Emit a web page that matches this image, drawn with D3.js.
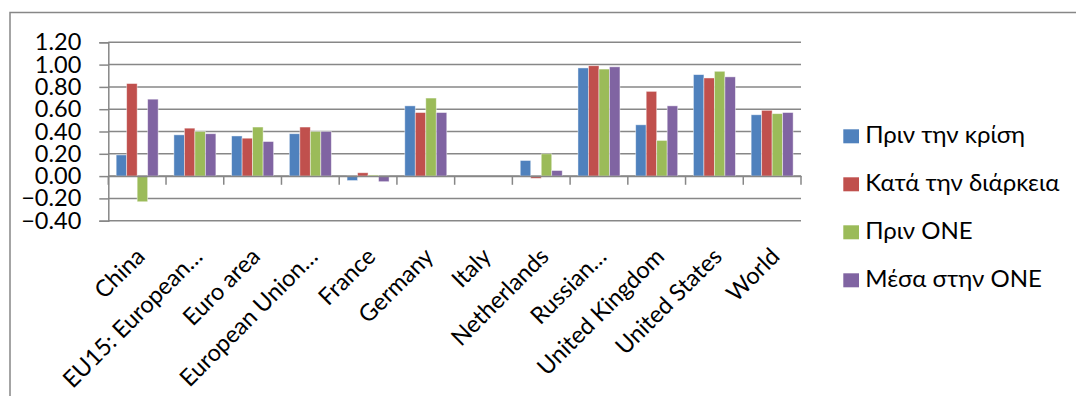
<!DOCTYPE html>
<html>
<head>
<meta charset="utf-8">
<script src="https://cdn.jsdelivr.net/npm/d3@7"></script>
<style>
  html, body { margin: 0; padding: 0; background: #fff; }
  svg { display: block; }
  text { font-family: Lato, "Open Sans", sans-serif; fill: #000; }
</style>
</head>
<body>
<svg id="chart" width="1076" height="396"></svg>
<script>
const categories = ["China", "EU15: European…", "Euro area", "European Union…", "France", "Germany", "Italy", "Netherlands", "Russian…", "United Kingdom", "United States", "World"];
const seriesNames = ["Πριν την κρίση", "Κατά την διάρκεια", "Πριν ONE", "Μέσα στην ONE"];
const seriesColors = ["#4F81BD", "#C0504D", "#9BBB59", "#8064A2"];
const beforeCrisis = [0.19, 0.37, 0.36, 0.38, -0.04, 0.63, null, 0.14, 0.97, 0.46, 0.91, 0.55];
const duringCrisis = [0.83, 0.43, 0.34, 0.44, 0.03, 0.57, null, -0.02, 0.99, 0.76, 0.88, 0.59];
const beforeEMU    = [-0.23, 0.40, 0.44, 0.40, 0.01, 0.70, null, 0.20, 0.96, 0.32, 0.94, 0.56];
const inEMU        = [0.69, 0.38, 0.31, 0.40, -0.05, 0.57, null, 0.05, 0.98, 0.63, 0.89, 0.57];
const yTicks = [-0.4, -0.2, 0, 0.2, 0.4, 0.6, 0.8, 1.0, 1.2];

const series = [beforeCrisis, duringCrisis, beforeEMU, inEMU];

const svg = d3.select("#chart");
const gridColor = "#878787";

// outer frame
svg.append("rect")
  .attr("x", 10).attr("y", 12.5)
  .attr("width", 1100).attr("height", 420)
  .attr("fill", "none").attr("stroke", gridColor).attr("stroke-width", 1.5);

const x0 = d3.scaleBand().domain(categories).range([108.3, 801]).paddingInner(0).paddingOuter(0);
const x1 = d3.scaleBand().domain(d3.range(series.length)).range([0, x0.bandwidth()]).paddingInner(0).paddingOuter(0.75);
const y = d3.scaleLinear().domain([-0.4, 1.2]).range([220.7, 42.3]);

// gridlines + y axis
const yAxis = d3.axisLeft(y).tickValues(yTicks).tickFormat(d3.format(".2f"))
  .tickSize(9).tickPadding(18);
const gy = svg.append("g").attr("transform", "translate(108.3,0)").call(yAxis);
gy.select(".domain").attr("stroke", gridColor).attr("stroke-width", 1.5);
gy.selectAll(".tick line").attr("stroke", gridColor).attr("stroke-width", 1.5);
gy.selectAll(".tick text").attr("font-size", 23.5).attr("font-family", "Lato, 'Open Sans', sans-serif").attr("fill", "#000");

svg.append("g").selectAll("line").data(yTicks).join("line")
  .attr("x1", 108.3).attr("x2", 801)
  .attr("y1", d => y(d)).attr("y2", d => y(d))
  .attr("stroke", gridColor).attr("stroke-width", 1.5);

// bars
const groups = svg.append("g").selectAll("g").data(categories).join("g")
  .attr("transform", d => `translate(${x0(d)},0)`);
groups.selectAll("rect")
  .data((d, i) => series.map((s, j) => ({ j, v: s[i] })).filter(e => e.v !== null))
  .join("rect")
  .attr("x", d => x1(d.j))
  .attr("width", x1.bandwidth())
  .attr("y", d => Math.min(y(d.v), y(0)))
  .attr("height", d => Math.abs(y(d.v) - y(0)))
  .attr("fill", d => seriesColors[d.j])
  .attr("stroke", "rgba(255,255,255,0.55)")
  .attr("stroke-width", 0.8);

// x axis at zero
const xAxis = d3.axisBottom(x0).tickSize(0).tickFormat("");
const gx = svg.append("g").attr("transform", `translate(0,${y(0)})`).call(xAxis);
gx.select(".domain").attr("stroke", gridColor).attr("stroke-width", 1.5);
const tickPositions = categories.map(c => x0(c)).concat([x0.range()[1]]);
svg.append("g").selectAll("line").data(tickPositions).join("line")
  .attr("x1", d => d).attr("x2", d => d)
  .attr("y1", y(0)).attr("y2", y(0) + 8.7)
  .attr("stroke", gridColor).attr("stroke-width", 1.5);

// category labels (low position)
svg.append("g").selectAll("text").data(categories).join("text")
  .attr("transform", d => `translate(${x0(d) + x0.bandwidth() / 2 + 9},258) rotate(-45)`)
  .attr("text-anchor", "end")
  .attr("font-size", 23.5)
  .text(d => d);

// legend
const legend = svg.append("g").selectAll("g").data(seriesNames).join("g")
  .attr("transform", (d, i) => `translate(843.3,${143.3 + i * 48})`);
legend.append("rect")
  .attr("x", 0).attr("y", -14).attr("width", 15.7).attr("height", 14)
  .attr("fill", (d, i) => seriesColors[i]);
legend.append("text")
  .attr("x", 22).attr("y", 0)
  .attr("font-size", 24)
  .text(d => d);
</script>
</body>
</html>
